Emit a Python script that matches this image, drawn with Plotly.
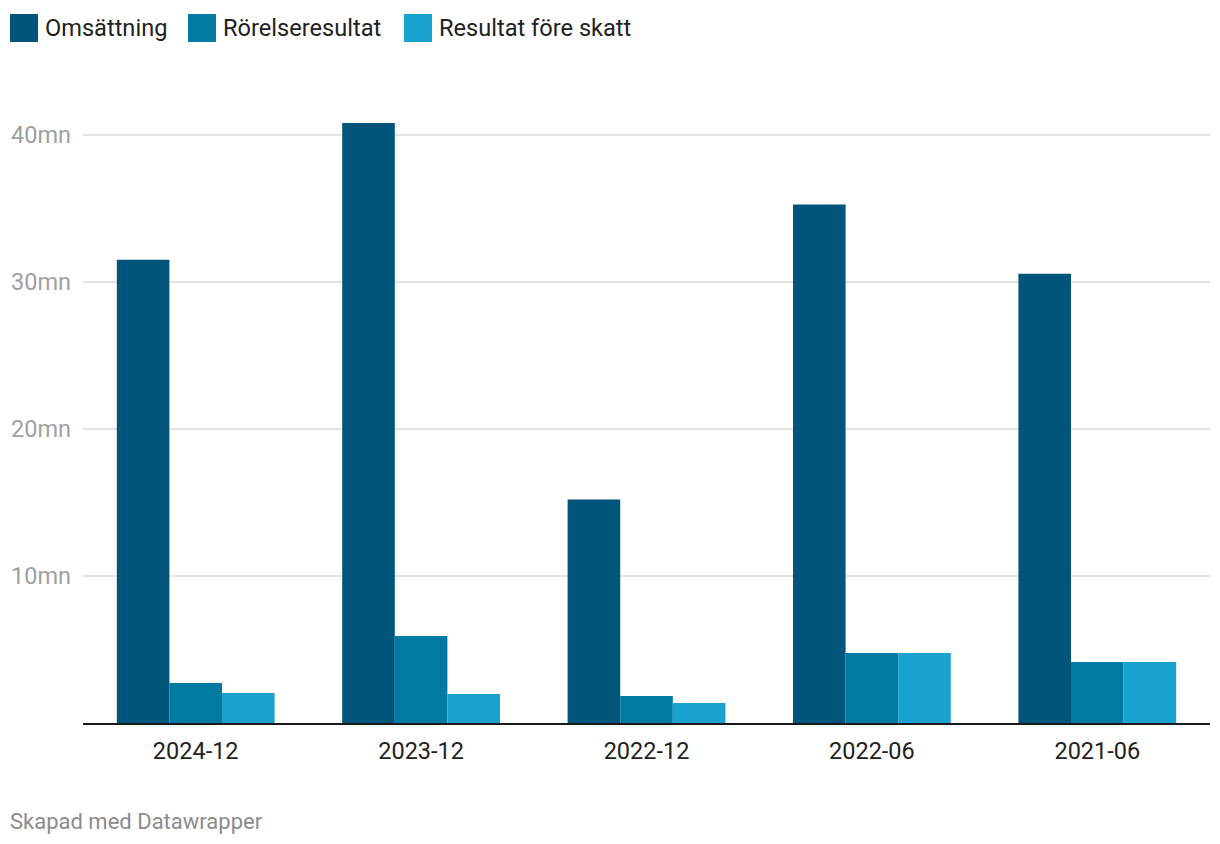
import plotly.graph_objects as go

categories = ["2024-12", "2023-12", "2022-12", "2022-06", "2021-06"]
series_names = ["Omsättning", "Rörelseresultat", "Resultat före skatt"]
omsattning = [31.5, 40.8, 15.2, 35.25, 30.55]
rorelseresultat = [2.72, 5.92, 1.84, 4.76, 4.15]
resultat_fore_skatt = [2.04, 1.97, 1.36, 4.76, 4.15]
tick_values = [10, 20, 30, 40]
tick_labels = ["10mn", "20mn", "30mn", "40mn"]
colors = ["#01547a", "#0079a3", "#19a2cf"]

W, H = 1220, 844
ML, MR, MT, MB = 83, 10, 98, 121
PW, PH = W - ML - MR, H - MT - MB

def px(x):
    return (x - ML) / PW

def py(y):
    return (H - MB - y) / PH

fig = go.Figure()
for name, vals, col in zip(series_names, [omsattning, rorelseresultat, resultat_fore_skatt], colors):
    fig.add_trace(go.Bar(x=categories, y=vals, name=name, marker=dict(color=col, line=dict(width=0)),
                         hoverinfo="x+y+name"))

fig.update_layout(
    width=W, height=H,
    margin=dict(l=ML, r=MR, t=MT, b=MB),
    plot_bgcolor="white", paper_bgcolor="white",
    barmode="group", bargap=0.3, bargroupgap=0,
    showlegend=False,
    font=dict(family="Roboto", size=23.5, color="#222222"),
    xaxis=dict(type="category", showgrid=False, showline=True, linecolor="#1a1a1a", linewidth=2,
               ticks="", tickfont=dict(size=23.5, color="#222222"), ticklabelstandoff=6,
               fixedrange=True),
    yaxis=dict(range=[0, 42.5], tickvals=tick_values, ticktext=tick_labels,
               showgrid=True, gridcolor="#e3e3e3", gridwidth=1.5, zeroline=False,
               showline=False, ticks="", tickfont=dict(size=23.5, color="#a0a0a0"),
               ticklabelstandoff=11, fixedrange=True),
)

# Custom legend (large swatches like the original)
legend_x = [10, 188, 404]
for name, col, x0 in zip(series_names, colors, legend_x):
    fig.add_shape(type="rect", xref="paper", yref="paper",
                  x0=px(x0), x1=px(x0 + 28), y0=py(42), y1=py(14),
                  fillcolor=col, line=dict(width=0))
    fig.add_annotation(text=name, xref="paper", yref="paper",
                       x=px(x0 + 33), y=py(28),
                       xanchor="left", yanchor="middle", showarrow=False,
                       font=dict(size=23.6, color="#222222"))

fig.add_annotation(text="Skapad med Datawrapper", xref="paper", yref="paper",
                   x=px(8), y=py(821),
                   xanchor="left", yanchor="middle", showarrow=False,
                   font=dict(size=22, color="#8c8c8c"))

fig.write_html("out.html", config={"displayModeBar": False},
               post_script="document.body.style.margin='0';document.body.style.padding='0';")
